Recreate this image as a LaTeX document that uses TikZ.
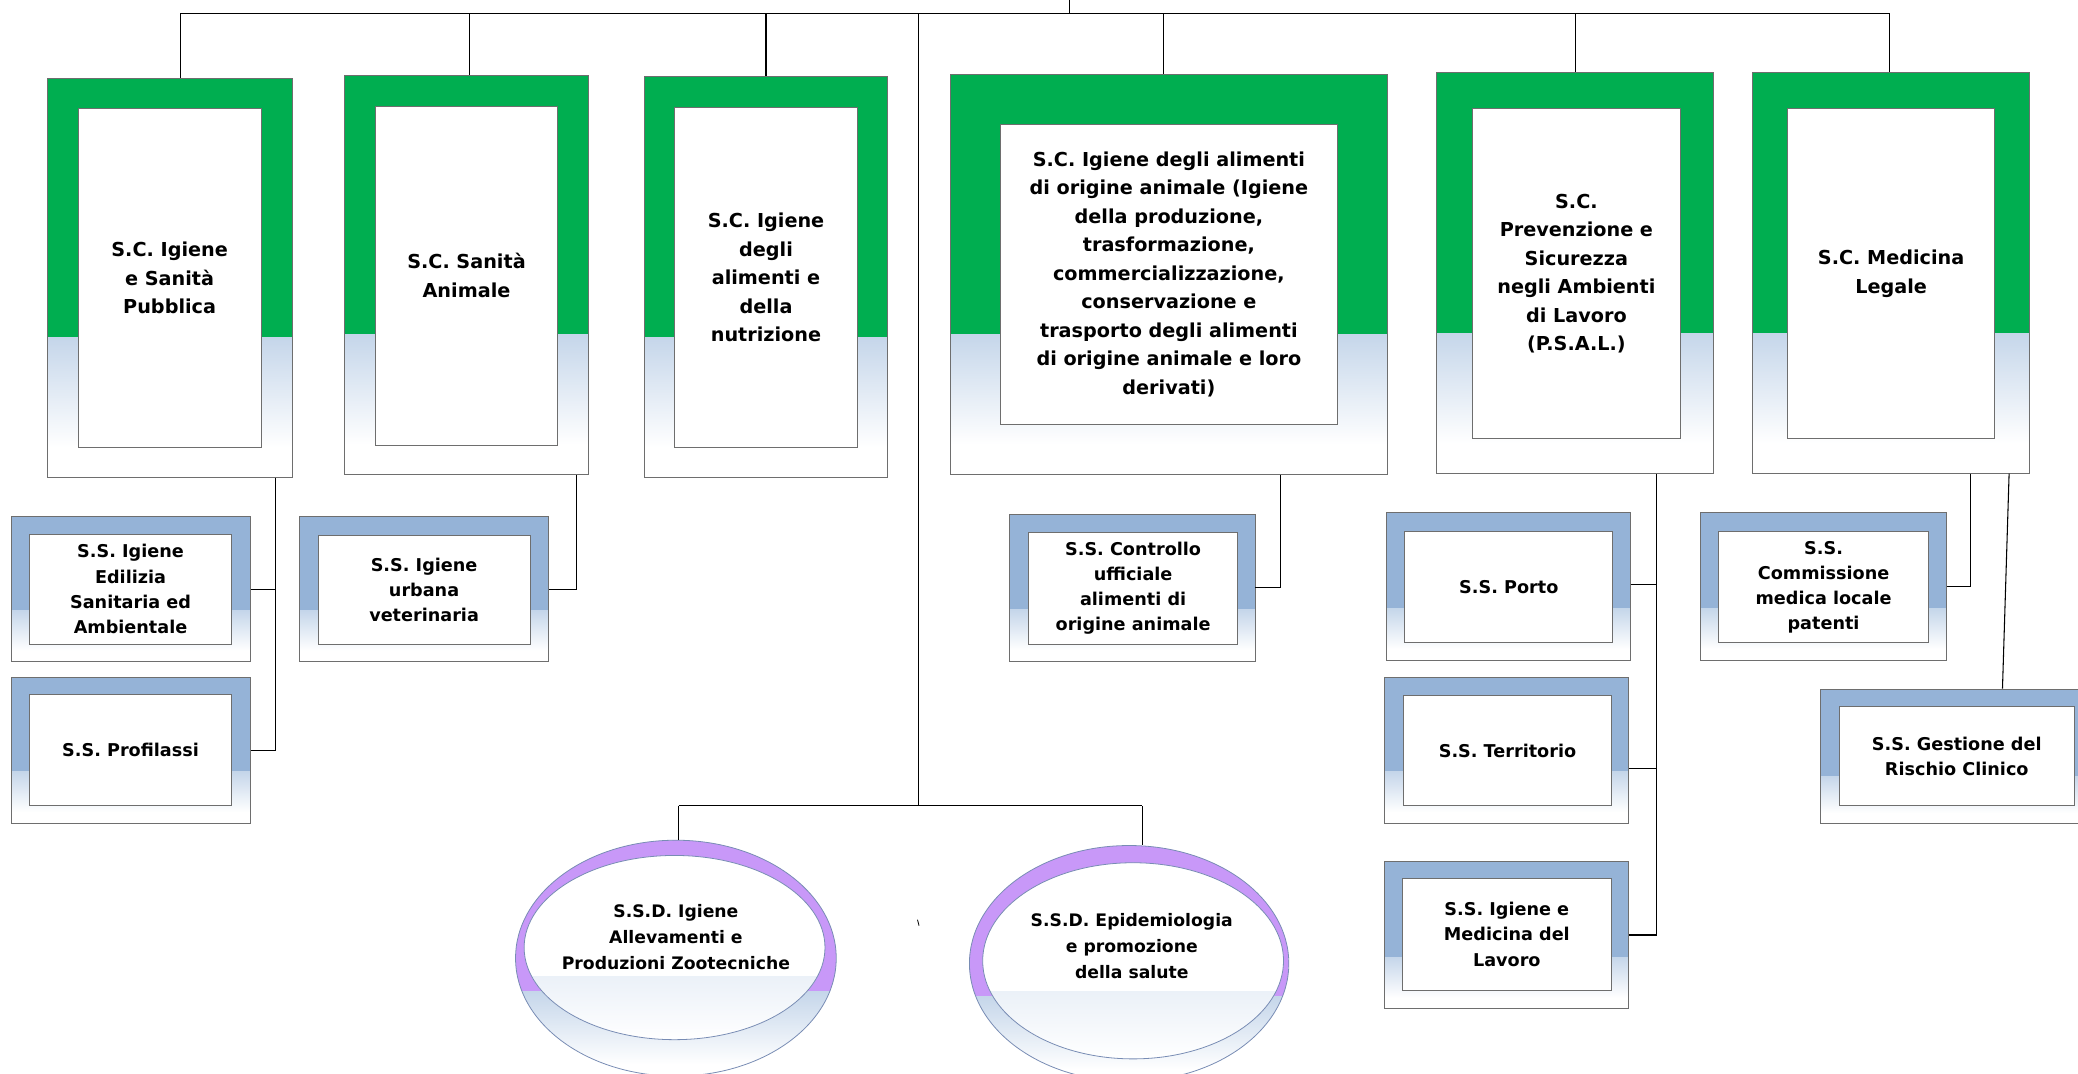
\documentclass[tikz,border=0pt]{standalone}
\usepackage{fontspec}
\setmainfont{DejaVu Sans}
\usetikzlibrary{calc,shapes.geometric}
\definecolor{sgreen}{RGB}{0,174,80}
\definecolor{sblue}{RGB}{149,179,215}
\definecolor{slight}{RGB}{197,214,234}
\definecolor{spurple}{RGB}{200,152,248}
\definecolor{sborder}{RGB}{110,110,110}
\definecolor{eborder}{RGB}{120,140,180}
\tikzset{
  conn/.style={draw=black, line width=0.8pt},
  frame/.style={rectangle, draw=sborder, line width=0.7pt, inner sep=0pt, fill=white,
    path picture={
      \fill[#1] (path picture bounding box.north west) rectangle ($(path picture bounding box.east)!0.3!(path picture bounding box.south east)$);
      \shade[top color=slight, bottom color=white] ($(path picture bounding box.west)!0.3!(path picture bounding box.south west)$) rectangle ($(path picture bounding box.east)!0.85!(path picture bounding box.south east)$);
    }},
  sc/.style={frame=sgreen},
  ss/.style={frame=sblue},
  inbox/.style={rectangle, draw=sborder, line width=0.7pt, fill=white, inner sep=2pt, align=center},
  sctext/.style={font=\fontsize{14.5}{21.5}\selectfont\bfseries},
  sstext/.style={font=\fontsize{13.3}{19}\selectfont\bfseries},
  eltext/.style={font=\fontsize{13}{19.5}\selectfont\bfseries, align=center, inner sep=0pt},
  eouter/.style={ellipse, draw=eborder, line width=0.6pt, inner sep=0pt, fill=white,
    path picture={
      \fill[spurple] (path picture bounding box.north west) rectangle ($(path picture bounding box.east)!0.28!(path picture bounding box.south east)$);
      \shade[top color=slight, bottom color=white] ($(path picture bounding box.west)!0.28!(path picture bounding box.south west)$) rectangle ($(path picture bounding box.east)!0.9!(path picture bounding box.south east)$);
    }},
  einner/.style={ellipse, draw=eborder, line width=0.6pt, inner sep=0pt, fill=white,
    path picture={
      \shade[top color=slight, bottom color=white] ($(path picture bounding box.west)!0.31!(path picture bounding box.south west)$) rectangle (path picture bounding box.south east);
    }},
}
\begin{document}
\begin{tikzpicture}[x=1pt,y=-1pt]
\useasboundingbox (0,0) rectangle (1568,810);
\clip (0,0) rectangle (1568,810);
\fill[white] (0,0) rectangle (1568,810);

% ---- top level boxes ----
\node[sc, minimum width=185pt, minimum height=301pt] (b1) at (128.5,209.5) {};
\node[inbox, sctext, minimum width=138pt, minimum height=256pt] (b1i) at (128,210) {S.C. Igiene\\e Sanità\\Pubblica};
\node[sc, minimum width=184pt, minimum height=301pt] (b2) at (352,207.5) {};
\node[inbox, sctext, minimum width=138pt, minimum height=256pt] (b2i) at (352,208) {S.C. Sanità\\Animale};
\node[sc, minimum width=184pt, minimum height=302pt] (b3) at (578,209) {};
\node[inbox, sctext, minimum width=138pt, minimum height=257pt] (b3i) at (578,209.5) {S.C. Igiene\\degli\\alimenti e\\della\\nutrizione};
\node[sc, minimum width=330pt, minimum height=302pt] (b4) at (882,207) {};
\node[inbox, sctext, minimum width=254pt, minimum height=226pt] (b4i) at (882,207) {S.C. Igiene degli alimenti\\di origine animale (Igiene\\della produzione,\\trasformazione,\\commercializzazione,\\conservazione e\\trasporto degli alimenti\\di origine animale e loro\\derivati)};
\node[sc, minimum width=209pt, minimum height=302pt] (b5) at (1188.5,206) {};
\node[inbox, sctext, minimum width=157pt, minimum height=249pt] (b5i) at (1189.5,206.5) {S.C.\\Prevenzione e\\Sicurezza\\negli Ambienti\\di Lavoro\\(P.S.A.L.)};
\node[sc, minimum width=209pt, minimum height=302pt] (b6) at (1426.5,206) {};
\node[inbox, sctext, minimum width=156pt, minimum height=249pt] (b6i) at (1427,206.5) {S.C. Medicina\\Legale};

% ---- second level boxes ----
\node[ss, minimum width=180pt, minimum height=109pt] (s1a) at (99,444.5) {};
\node[inbox, sstext, minimum width=153pt, minimum height=83pt] (s1ai) at (98.5,444.5) {S.S. Igiene\\Edilizia\\Sanitaria ed\\Ambientale};
\node[ss, minimum width=180pt, minimum height=110pt] (s1b) at (99,566) {};
\node[inbox, sstext, minimum width=153pt, minimum height=84pt] (s1bi) at (98.5,566) {S.S. Profilassi};
\node[ss, minimum width=188pt, minimum height=109pt] (s2a) at (320,444.5) {};
\node[inbox, sstext, minimum width=160pt, minimum height=82pt] (s2ai) at (320,445) {S.S. Igiene\\urbana\\veterinaria};
\node[ss, minimum width=185pt, minimum height=111pt] (s4a) at (854.5,443.5) {};
\node[inbox, sstext, minimum width=158pt, minimum height=84pt] (s4ai) at (855,444) {S.S. Controllo\\ufficiale\\alimenti di\\origine animale};
\node[ss, minimum width=184pt, minimum height=111pt] (s5a) at (1138,442.5) {};
\node[inbox, sstext, minimum width=157pt, minimum height=84pt] (s5ai) at (1138.5,443) {S.S. Porto};
\node[ss, minimum width=184pt, minimum height=110pt] (s5b) at (1137,566) {};
\node[inbox, sstext, minimum width=157pt, minimum height=83pt] (s5bi) at (1137.5,566.5) {S.S. Territorio};
\node[ss, minimum width=184pt, minimum height=111pt] (s5c) at (1137,705.5) {};
\node[inbox, sstext, minimum width=158pt, minimum height=84pt] (s5ci) at (1137,705) {S.S. Igiene e\\Medicina del\\Lavoro};
\node[ss, minimum width=186pt, minimum height=111pt] (s6a) at (1376,442.5) {};
\node[inbox, sstext, minimum width=158pt, minimum height=84pt] (s6ai) at (1376,443) {S.S.\\Commissione\\medica locale\\patenti};
\node[ss, minimum width=205pt, minimum height=101pt] (s6b) at (1476.5,570.5) {};
\node[inbox, sstext, minimum width=177pt, minimum height=75pt] (s6bi) at (1476.5,570.5) {S.S. Gestione del\\Rischio Clinico};

% ---- ellipses ----
\node[eouter, minimum width=242pt, minimum height=178pt] (e1) at (510,723) {};
\node[einner, minimum width=227pt, minimum height=139pt] (e1i) at (509,715) {};
\node[eltext] (e1t) at (510,707) {S.S.D. Igiene\\Allevamenti e\\Produzioni Zootecniche};
\node[eouter, minimum width=241pt, minimum height=178pt] (e2) at (852,727) {};
\node[einner, minimum width=227pt, minimum height=148pt] (e2i) at (855,725) {};
\node[eltext] (e2t) at (854,714) {S.S.D. Epidemiologia\\e promozione\\della salute};

% ---- connectors ----
\coordinate (root) at (807,0);
\coordinate (tl) at (136,10);
\coordinate (tr) at (1426,10);
\coordinate (t2) at (354,10);
\coordinate (t3) at (578,10);
\coordinate (t4) at (878,10);
\coordinate (t5) at (1189,10);
\coordinate (t7) at (693,10);
\draw[conn] (root) -- (root |- tl);
\draw[conn] (tl) -- (tr);
\draw[conn] (tl) -- (tl |- b1.north);
\draw[conn] (t2) -- (t2 |- b2.north);
\draw[conn] (t3) -- (t3 |- b3.north);
\draw[conn] (t4) -- (t4 |- b4.north);
\draw[conn] (t5) -- (t5 |- b5.north);
\draw[conn] (tr) -- (tr |- b6.north);

\coordinate (m7) at (693,608);
\coordinate (hl) at (512,608);
\coordinate (hr) at (862,608);
\draw[conn] (t7) -- (m7);
\draw[conn] (hl) -- (hr);
\draw[conn] (hl) -- (hl |- e1.north);
\draw[conn] (hr) -- (hr |- e2.north);
\draw[line width=0.6pt] (692.3,694) -- (693.5,698.5);

\coordinate (v1) at (208,0);
\draw[conn] (b1.south -| v1) |- (s1b.east);
\draw[conn] (s1a.east) -- (s1a.east -| v1);
\coordinate (v2) at (435,0);
\draw[conn] (b2.south -| v2) |- (s2a.east);
\coordinate (v4) at (966,0);
\draw[conn] (b4.south -| v4) |- (s4a.east);
\coordinate (v5) at (1250,0);
\draw[conn] (b5.south -| v5) |- (s5c.east);
\draw[conn] ([yshift=1.5pt]s5a.east) -- ([yshift=1.5pt]s5a.east -| v5);
\draw[conn] ([yshift=-14pt]s5b.east) -- ([yshift=-14pt]s5b.east -| v5);
\coordinate (v6) at (1487,0);
\draw[conn] (b6.south -| v6) |- (s6a.east);
\coordinate (v6a) at (1516,0);
\coordinate (v6b) at (1511,0);
\draw[line width=0.8pt] (b6.south -| v6a) -- (s6b.north -| v6b);
\end{tikzpicture}
\end{document}
